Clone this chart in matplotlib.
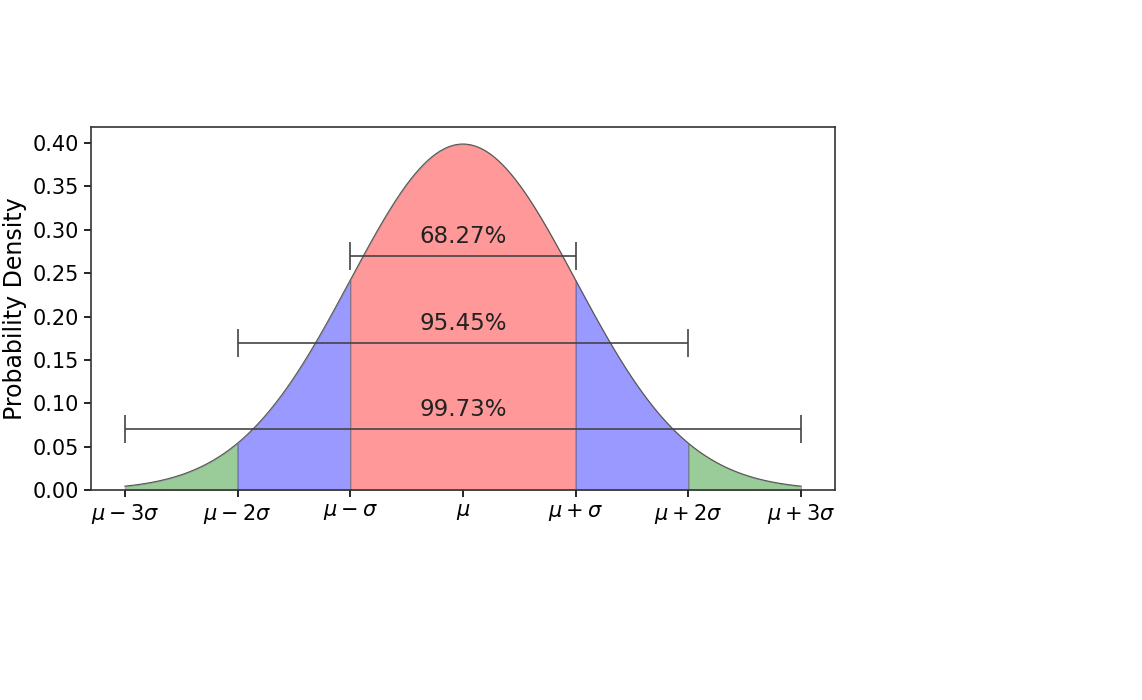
import numpy as np
import matplotlib.pyplot as plt

# standard normal, sigma bands
mu = 0
sigma = 1
band_edges = [(-3, -2), (-2, -1), (-1, 1), (1, 2), (2, 3)]
band_colors = ['green', 'blue', 'red', 'blue', 'green']
pct_labels = ['68.27%', '95.45%', '99.73%']
bar_heights = [0.27, 0.17, 0.07]
tick_pos = [-3, -2, -1, 0, 1, 2, 3]
tick_labels = [r'$\mu - 3\sigma$', r'$\mu - 2\sigma$', r'$\mu - \sigma$', r'$\mu$',
               r'$\mu + \sigma$', r'$\mu + 2\sigma$', r'$\mu + 3\sigma$']
y_ticks = [0.00, 0.05, 0.10, 0.15, 0.20, 0.25, 0.30, 0.35, 0.40]

x = np.linspace(mu - 3 * sigma, mu + 3 * sigma, 601)
pdf = np.exp(-0.5 * ((x - mu) / sigma) ** 2) / (sigma * np.sqrt(2 * np.pi))

fig = plt.figure(figsize=(11.42, 7), dpi=100)
ax = fig.add_axes([0.0797, 0.30, 0.6513, 0.519])

ax.plot(x, pdf, color='#555555', linewidth=0.8)
for (a, b), c in zip(band_edges, band_colors):
    m = (x >= mu + a * sigma - 1e-9) & (x <= mu + b * sigma + 1e-9)
    ax.fill_between(x[m], pdf[m], color=c, alpha=0.4, linewidth=0.8, edgecolor='#555555')

for k, h, lab in zip([1, 2, 3], bar_heights, pct_labels):
    ax.errorbar(mu, h, xerr=k * sigma, color='#444444', capsize=10, linewidth=1.2,
                capthick=1.2)
    ax.text(mu, h + 0.009, lab, ha='center', va='bottom', fontsize=16.5, color='#222222')

ax.set_ylim(bottom=0)
ax.set_yticks(y_ticks)
ax.set_yticklabels([f'{v:.2f}' for v in y_ticks])
ax.set_xticks(tick_pos)
ax.set_xticklabels(tick_labels)
ax.tick_params(labelsize=15, width=1.2, length=5)
for s in ax.spines.values():
    s.set_linewidth(1.2)
    s.set_color('#333333')
ax.set_ylabel('Probability Density', fontsize=17)

fig.savefig('out.png', dpi=100)
